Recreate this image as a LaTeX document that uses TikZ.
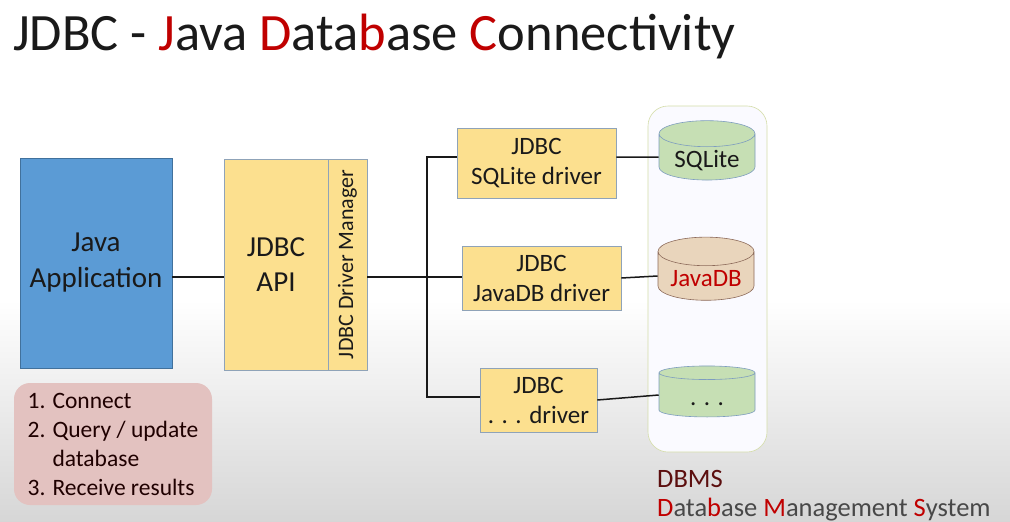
\documentclass[tikz,border=0pt]{standalone}
\usepackage{fontspec}
\setmainfont{Carlito}
\usetikzlibrary{shapes.geometric}

\definecolor{jblue}{HTML}{5B9BD5}
\definecolor{jblueline}{HTML}{41719C}
\definecolor{apifill}{HTML}{FCE08F}
\definecolor{apiline}{HTML}{8FA3B8}
\definecolor{dbfill}{HTML}{C6DFB4}
\definecolor{dbline}{HTML}{7E9DBF}
\definecolor{jdbfill}{HTML}{E9D5BC}
\definecolor{jdbline}{HTML}{8C6A5A}
\definecolor{stepfill}{HTML}{E3C2C0}
\definecolor{dbmsline}{HTML}{D4DDA8}
\definecolor{hired}{HTML}{C00000}
\definecolor{maroon}{HTML}{5C0F0F}
\definecolor{ink}{HTML}{1A1A1A}

\newcommand{\hl}[1]{\textcolor{hired}{#1}}

\tikzset{
  box/.style = {draw=apiline, fill=apifill, semithick, inner sep=0pt,
    align=center, font=\fontsize{25}{30}\selectfont, text=ink},
  db/.style = {cylinder, shape border rotate=90, aspect=0.4, draw=dbline,
    fill=dbfill, semithick, inner sep=0pt, text height=20pt, text depth=-4pt,
    font=\fontsize{25}{28}\selectfont, text=ink},
  wire/.style = {line width=1.5pt, black!90}
}

\begin{document}
\begin{tikzpicture}[x=1pt, y=-1pt]
    % background
    \fill[white] (0,0) rectangle (1010,522);
    \shade[top color=white, bottom color=black!16] (0,300) rectangle (1010,522);
    \useasboundingbox (0,0) rectangle (1010,522);

    % title
    \node[anchor=base west, inner sep=0pt, font=\fontsize{52.5}{58}\selectfont, text=ink] (title) at (13,50)
      {JDBC - \hl{J}ava \hl{D}ata\hl{b}ase \hl{C}onnectivity};

    % DBMS container
    \node[draw=dbmsline, fill=blue!2, semithick, rounded corners=20pt,
          minimum width=119pt, minimum height=346pt] (dbms) at (707.5,279) {};

    % application side
    \node[draw=jblueline, fill=jblue, semithick, minimum width=152pt, minimum height=210pt,
          align=center, font=\fontsize{29}{36}\selectfont, text=ink] (java) at (96,263) {Java\\Application};
    \node[box, minimum width=104pt, minimum height=211pt, font=\fontsize{29}{35}\selectfont] (api) at (276,264.5) {JDBC\\API};
    \node[box, minimum width=39pt, minimum height=211pt] (mgr) at (347.5,264.5) {};
    \node[rotate=90, font=\fontsize{22}{24}\selectfont, text=ink] (mgrlabel) at (mgr) {JDBC Driver Manager};

    % drivers
    \node[box, minimum width=159pt, minimum height=70pt] (sqldrv) at (536.5,163) {JDBC\\SQLite driver};
    \node[box, minimum width=159pt, minimum height=64pt] (jdbdrv) at (541.5,278) {JDBC\\JavaDB driver};
    \node[box, minimum width=117pt, minimum height=64pt] (dotdrv) at (538.5,400) {JDBC\\. . . driver};

    % databases
    \node[db, minimum width=96pt, minimum height=53pt] (sqlite) at (707,157) {SQLite};
    \node[db, fill=jdbfill, draw=jdbline, minimum width=96pt, minimum height=53pt, text=hired] (javadb) at (706,276) {JavaDB};
    \node[db, minimum width=96pt, minimum height=51pt] (dots) at (707,395) {. . .};

    % connectors
    \coordinate (busmid) at (427,277);
    \coordinate (bustop) at (427,157);
    \coordinate (busbot) at (427,397);
    \draw[wire] (java.east |- busmid) -- (api.west |- busmid);
    \draw[wire] (mgr.east |- busmid) -- (jdbdrv.west |- busmid);
    \draw[wire] (sqldrv.west |- bustop) -- (bustop) -- (busbot) -- (dotdrv.west |- busbot);
    \draw[wire] (sqldrv.east |- sqlite) -- (sqlite.west);
    \draw[wire] (jdbdrv.east) -- (javadb.west);
    \draw[wire] (dotdrv.east) -- (dots.west);

    % steps
    \node[fill=stepfill, rounded corners=16pt, minimum width=198pt, minimum height=122pt,
          align=left, font=\fontsize{23.5}{29}\selectfont, text=black!80!red!60!black] (steps) at (113,444)
      {1. Connect\\2. Query / update\\\phantom{2. }database\\3. Receive results};

    % DBMS caption
    \node[anchor=base west, inner sep=0pt, font=\fontsize{26.5}{30}\selectfont, text=maroon] (dbmsabbr) at (657,487) {DBMS};
    \node[anchor=base west, inner sep=0pt, font=\fontsize{26.5}{30}\selectfont, text=ink!80] (dbmsfull) at (657,516)
      {\hl{D}ata\hl{b}ase \hl{M}anagement \hl{S}ystem};
\end{tikzpicture}
\end{document}
